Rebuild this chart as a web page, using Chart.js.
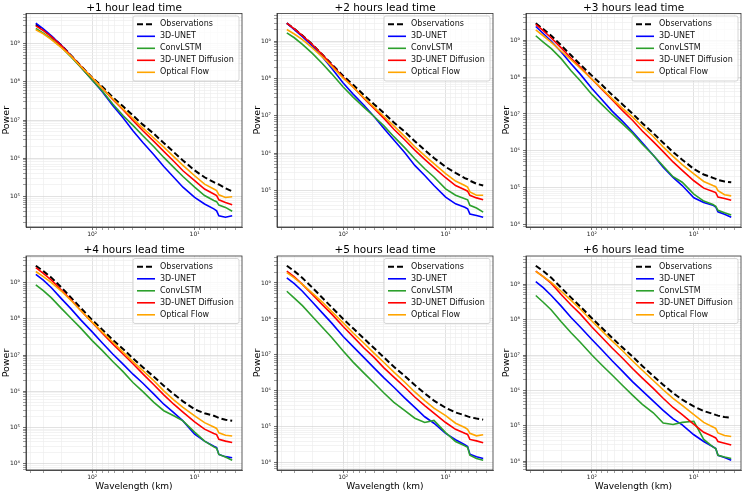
<!DOCTYPE html>
<html>
<head>
<meta charset="utf-8">
<script src="https://cdn.jsdelivr.net/npm/chart.js@4.4.1/dist/chart.umd.min.js"></script>
<style>
  html, body { margin: 0; padding: 0; background: #fff; }
  #fig { position: relative; width: 745px; height: 493px; overflow: hidden; }
  #fig canvas { position: absolute; }
</style>
</head>
<body>
<div id="fig"></div>
<script>
// Radially averaged power spectra, one panel per lead time.
// Power values as log10(power).

const wavelengths = [355, 300, 250, 200, 160, 130, 100, 80, 63, 50, 40, 32, 25, 20, 16, 13, 10, 8, 6.5, 6.1, 5.8, 5, 4.3];

const leadTitles = ['+1 hour lead time', '+2 hours lead time', '+3 hours lead time',
                    '+4 hours lead time', '+5 hours lead time', '+6 hours lead time'];

const seriesNames = ['Observations', '3D-UNET', 'ConvLSTM', '3D-UNET Diffusion', 'Optical Flow'];
const seriesColors = ['#000000', '#0000ff', '#2ca02c', '#ff0000', '#ffa500'];

// log10(power), rows = lead time +1h .. +6h
const observations = [
  [9.51, 9.37, 9.19, 8.96, 8.69, 8.43, 8.11, 7.88, 7.60, 7.36, 7.12, 6.88, 6.64, 6.40, 6.16, 5.94, 5.68, 5.50, 5.37, 5.33, 5.31, 5.21, 5.13],
  [9.48, 9.33, 9.15, 8.91, 8.64, 8.39, 8.07, 7.83, 7.56, 7.31, 7.07, 6.82, 6.57, 6.32, 6.08, 5.87, 5.63, 5.47, 5.33, 5.30, 5.26, 5.18, 5.13],
  [9.46, 9.30, 9.12, 8.86, 8.59, 8.34, 8.04, 7.79, 7.51, 7.26, 7.01, 6.75, 6.48, 6.22, 5.97, 5.76, 5.51, 5.36, 5.27, 5.24, 5.21, 5.17, 5.15],
  [9.47, 9.32, 9.14, 8.87, 8.58, 8.31, 7.97, 7.71, 7.42, 7.17, 6.91, 6.66, 6.40, 6.15, 5.92, 5.72, 5.50, 5.39, 5.32, 5.29, 5.26, 5.21, 5.18],
  [9.48, 9.33, 9.14, 8.87, 8.59, 8.33, 8.00, 7.74, 7.46, 7.19, 6.93, 6.67, 6.41, 6.16, 5.93, 5.73, 5.53, 5.40, 5.32, 5.29, 5.27, 5.23, 5.20],
  [9.52, 9.37, 9.18, 8.90, 8.62, 8.37, 8.04, 7.77, 7.48, 7.21, 6.96, 6.69, 6.41, 6.16, 5.93, 5.74, 5.55, 5.42, 5.34, 5.31, 5.29, 5.25, 5.23]
];
const unet = [
  [9.54, 9.39, 9.21, 8.96, 8.68, 8.40, 8.05, 7.75, 7.38, 7.06, 6.72, 6.41, 6.09, 5.78, 5.50, 5.24, 4.97, 4.80, 4.67, 4.62, 4.49, 4.45, 4.49],
  [9.48, 9.31, 9.12, 8.87, 8.58, 8.28, 7.88, 7.58, 7.29, 6.98, 6.66, 6.35, 6.01, 5.67, 5.40, 5.13, 4.82, 4.64, 4.55, 4.51, 4.37, 4.33, 4.28],
  [9.37, 9.18, 8.97, 8.68, 8.36, 8.08, 7.69, 7.39, 7.07, 6.80, 6.52, 6.22, 5.88, 5.56, 5.28, 5.06, 4.73, 4.60, 4.53, 4.48, 4.35, 4.28, 4.20],
  [9.23, 9.07, 8.86, 8.56, 8.27, 7.98, 7.64, 7.34, 7.03, 6.75, 6.47, 6.22, 5.92, 5.64, 5.41, 5.18, 4.81, 4.62, 4.48, 4.44, 4.25, 4.19, 4.16],
  [9.14, 8.98, 8.77, 8.47, 8.17, 7.89, 7.51, 7.23, 6.93, 6.64, 6.36, 6.10, 5.80, 5.54, 5.28, 5.10, 4.82, 4.64, 4.50, 4.45, 4.24, 4.17, 4.12],
  [9.07, 8.90, 8.68, 8.38, 8.06, 7.79, 7.44, 7.15, 6.83, 6.54, 6.25, 5.99, 5.70, 5.44, 5.20, 5.03, 4.75, 4.56, 4.41, 4.36, 4.17, 4.11, 4.03]
];
const convLstm = [
  [9.40, 9.28, 9.13, 8.91, 8.65, 8.39, 8.05, 7.77, 7.42, 7.12, 6.86, 6.59, 6.30, 6.02, 5.76, 5.52, 5.24, 5.02, 4.89, 4.86, 4.77, 4.71, 4.61],
  [9.22, 9.09, 8.91, 8.67, 8.40, 8.13, 7.77, 7.50, 7.23, 6.98, 6.73, 6.44, 6.14, 5.85, 5.58, 5.36, 5.04, 4.87, 4.78, 4.75, 4.60, 4.53, 4.42],
  [9.12, 8.95, 8.77, 8.50, 8.17, 7.90, 7.53, 7.26, 6.98, 6.73, 6.48, 6.18, 5.88, 5.59, 5.30, 5.15, 4.83, 4.64, 4.55, 4.50, 4.39, 4.32, 4.26],
  [8.94, 8.78, 8.58, 8.29, 8.01, 7.75, 7.40, 7.13, 6.82, 6.54, 6.24, 5.99, 5.69, 5.46, 5.32, 5.18, 4.87, 4.62, 4.46, 4.42, 4.25, 4.18, 4.09],
  [8.77, 8.58, 8.37, 8.07, 7.77, 7.49, 7.11, 6.80, 6.50, 6.22, 5.94, 5.68, 5.45, 5.24, 5.12, 5.18, 4.84, 4.59, 4.47, 4.43, 4.21, 4.12, 4.07],
  [8.68, 8.49, 8.27, 7.94, 7.63, 7.36, 7.00, 6.72, 6.43, 6.14, 5.87, 5.61, 5.37, 5.08, 5.04, 5.10, 5.13, 4.62, 4.41, 4.36, 4.17, 4.12, 4.08]
];
const unetDiffusion = [
  [9.47, 9.35, 9.18, 8.95, 8.68, 8.42, 8.11, 7.84, 7.54, 7.27, 6.99, 6.72, 6.44, 6.18, 5.92, 5.67, 5.41, 5.19, 5.06, 5.02, 4.91, 4.84, 4.78],
  [9.48, 9.33, 9.15, 8.91, 8.64, 8.37, 8.03, 7.77, 7.47, 7.20, 6.93, 6.64, 6.35, 6.08, 5.83, 5.61, 5.34, 5.13, 5.02, 4.98, 4.87, 4.80, 4.75],
  [9.43, 9.26, 9.06, 8.79, 8.51, 8.27, 7.94, 7.67, 7.38, 7.09, 6.83, 6.54, 6.25, 5.98, 5.70, 5.47, 5.19, 4.99, 4.90, 4.87, 4.75, 4.71, 4.66],
  [9.42, 9.26, 9.07, 8.80, 8.52, 8.24, 7.90, 7.61, 7.31, 7.03, 6.76, 6.48, 6.18, 5.90, 5.64, 5.42, 5.15, 4.95, 4.83, 4.80, 4.67, 4.62, 4.58],
  [9.33, 9.17, 8.96, 8.68, 8.40, 8.14, 7.79, 7.51, 7.20, 6.93, 6.64, 6.38, 6.10, 5.83, 5.59, 5.38, 5.12, 4.93, 4.82, 4.79, 4.65, 4.61, 4.56],
  [9.37, 9.21, 9.02, 8.71, 8.41, 8.16, 7.79, 7.50, 7.19, 6.91, 6.62, 6.35, 6.06, 5.78, 5.52, 5.32, 5.04, 4.82, 4.70, 4.66, 4.56, 4.51, 4.46]
];
const opticalFlow = [
  [9.37, 9.26, 9.11, 8.90, 8.67, 8.41, 8.11, 7.84, 7.56, 7.29, 7.04, 6.79, 6.53, 6.29, 6.04, 5.81, 5.54, 5.32, 5.19, 5.15, 5.04, 4.97, 4.99],
  [9.31, 9.19, 9.04, 8.82, 8.58, 8.33, 8.01, 7.77, 7.49, 7.23, 6.98, 6.73, 6.44, 6.17, 5.93, 5.72, 5.45, 5.25, 5.13, 5.09, 4.96, 4.87, 4.87],
  [9.28, 9.12, 8.94, 8.70, 8.47, 8.24, 7.94, 7.69, 7.41, 7.15, 6.92, 6.66, 6.39, 6.11, 5.85, 5.63, 5.38, 5.17, 5.06, 5.03, 4.92, 4.81, 4.78],
  [9.31, 9.17, 9.00, 8.77, 8.50, 8.24, 7.91, 7.64, 7.36, 7.08, 6.82, 6.57, 6.29, 6.01, 5.76, 5.55, 5.32, 5.13, 5.01, 4.97, 4.85, 4.78, 4.76],
  [9.29, 9.14, 8.96, 8.72, 8.47, 8.21, 7.89, 7.61, 7.33, 7.05, 6.79, 6.52, 6.24, 5.97, 5.73, 5.52, 5.31, 5.10, 4.98, 4.93, 4.82, 4.75, 4.78],
  [9.36, 9.21, 9.05, 8.80, 8.54, 8.30, 7.96, 7.69, 7.39, 7.12, 6.84, 6.57, 6.28, 6.02, 5.78, 5.58, 5.32, 5.10, 4.97, 4.93, 4.80, 4.73, 4.70]
];

const allSeries = [observations, unet, convLstm, unetDiffusion, opticalFlow];

// --- layout of the 2x3 grid (canvas cells and plot rectangles, px) ---
const colLeft = [0, 250, 500], colWidth = [250, 250, 245];
const plotLeft = [26, 277, 526], plotRight = [242, 493, 741];
const rowTop = [0, 242], rowHeight = [242, 251];
const plotTop = [13.5, 256], plotBottom = [227, 470];

const FONT = '"DejaVu Sans", "Liberation Sans", sans-serif';
const SUP = '⁰¹²³⁴⁵⁶⁷⁸⁹';

function isDecade(v) {
  const e = Math.log10(v);
  return Math.abs(e - Math.round(e)) < 1e-9;
}

function decadeLabel(v) {
  if (!isDecade(v)) return '';
  const n = Math.round(Math.log10(v));
  return '10' + String(n).split('').map(d => d === '-' ? '⁻' : SUP[+d]).join('');
}

// 1..9 x 10^n ticks like matplotlib's major + minor log locators
function logTicks(scale) {
  const out = [];
  const lo = Math.floor(Math.log10(scale.min));
  const hi = Math.ceil(Math.log10(scale.max));
  for (let e = lo; e <= hi; e++) {
    for (let m = 1; m < 10; m++) {
      const v = m * Math.pow(10, e);
      if (v >= scale.min && v <= scale.max) out.push({ value: v, major: m === 1 });
    }
  }
  scale.ticks = out;
}

function paddedRange(logs) {
  const lo = Math.min(...logs), hi = Math.max(...logs);
  const m = (hi - lo) * 0.05;
  return [Math.pow(10, lo - m), Math.pow(10, hi + m)];
}

const xRange = paddedRange(wavelengths.map(w => Math.log10(w)));

function axisStyle() {
  return {
    type: 'logarithmic',
    afterBuildTicks: logTicks,
    ticks: {
      autoSkip: false, maxRotation: 0, minRotation: 0,
      font: { size: 6, family: FONT }, color: '#222',
      callback: v => decadeLabel(v)
    },
    grid: {
      color: ctx => (ctx.tick && isDecade(ctx.tick.value)) ? '#d6d6d6' : '#eeeeee',
      lineWidth: 0.7,
      tickLength: 3,
      tickColor: ctx => (ctx.tick && isDecade(ctx.tick.value)) ? '#333' : '#777'
    },
    border: { display: true, color: '#333', width: 0.8 }
  };
}

// frame, title, axis labels and legend drawn inside the plot
const decor = {
  id: 'decor',
  afterDatasetsDraw(chart, args, opts) {
    const { ctx, chartArea: a } = chart;
    ctx.save();
    ctx.strokeStyle = '#333';
    ctx.lineWidth = 0.8;
    ctx.strokeRect(a.left, a.top, a.right - a.left, a.bottom - a.top);

    // legend
    const bw = 106, bh = 65;
    const bx = a.right - 3 - bw, by = a.top + 2.5;
    ctx.beginPath();
    if (ctx.roundRect) ctx.roundRect(bx, by, bw, bh, 2); else ctx.rect(bx, by, bw, bh);
    ctx.fillStyle = 'rgba(255,255,255,0.8)';
    ctx.fill();
    ctx.strokeStyle = '#cccccc';
    ctx.lineWidth = 0.8;
    ctx.stroke();
    ctx.font = '8px ' + FONT;
    ctx.textBaseline = 'middle';
    ctx.textAlign = 'left';
    seriesNames.forEach((name, i) => {
      const y = by + 8.3 + 12 * i;
      ctx.beginPath();
      ctx.setLineDash(i === 0 ? [6, 3] : []);
      ctx.lineWidth = i === 0 ? 2 : 1.6;
      ctx.strokeStyle = seriesColors[i];
      ctx.moveTo(bx + 4, y);
      ctx.lineTo(bx + 22, y);
      ctx.stroke();
      ctx.setLineDash([]);
      ctx.fillStyle = '#111';
      ctx.fillText(name, bx + 27, y);
    });

    // title
    ctx.fillStyle = '#000';
    ctx.textAlign = 'center';
    ctx.textBaseline = 'alphabetic';
    ctx.font = '10.5px ' + FONT;
    ctx.fillText(opts.title, (a.left + a.right) / 2, a.top - 3);

    // y label
    ctx.font = '9.5px ' + FONT;
    ctx.save();
    ctx.translate(a.left - 19, (a.top + a.bottom) / 2);
    ctx.rotate(-Math.PI / 2);
    ctx.textBaseline = 'middle';
    ctx.fillText('Power', 0, 0);
    ctx.restore();

    // x label on the bottom row only
    if (opts.xlabel) {
      ctx.font = '9px ' + FONT;
      ctx.textBaseline = 'middle';
      ctx.fillText('Wavelength (km)', (a.left + a.right) / 2, a.bottom + 16.7);
    }
    ctx.restore();
  }
};

const fig = document.getElementById('fig');

for (let p = 0; p < 6; p++) {
  const row = Math.floor(p / 3), col = p % 3;
  const canvas = document.createElement('canvas');
  canvas.width = colWidth[col];
  canvas.height = rowHeight[row];
  canvas.style.left = colLeft[col] + 'px';
  canvas.style.top = rowTop[row] + 'px';
  fig.appendChild(canvas);

  const logs = [];
  allSeries.forEach(s => logs.push(...s[p]));
  const yRange = paddedRange(logs);

  const datasets = allSeries.map((s, i) => ({
    label: seriesNames[i],
    data: wavelengths.map((w, k) => ({ x: w, y: Math.pow(10, s[p][k]) })),
    borderColor: seriesColors[i],
    borderWidth: i === 0 ? 2 : 1.6,
    borderDash: i === 0 ? [6, 3] : [],
    pointRadius: 0,
    tension: 0,
    fill: false,
    order: 4 - i
  }));

  const xAxis = axisStyle();
  Object.assign(xAxis, {
    reverse: true,
    min: xRange[0], max: xRange[1],
    afterFit: s => {
      s.height = rowTop[row] + rowHeight[row] - plotBottom[row];
      s.paddingLeft = 0; s.paddingRight = 0;
    }
  });
  xAxis.ticks.padding = 1;

  const yAxis = axisStyle();
  Object.assign(yAxis, {
    min: yRange[0], max: yRange[1],
    afterFit: s => {
      s.width = plotLeft[col] - colLeft[col];
      s.paddingTop = 0; s.paddingBottom = 0;
    }
  });
  yAxis.ticks.padding = 3;

  new Chart(canvas, {
    type: 'line',
    data: { datasets },
    options: {
      responsive: false,
      animation: false,
      devicePixelRatio: 1,
      layout: {
        autoPadding: false,
        padding: {
          top: plotTop[row] - rowTop[row],
          right: colLeft[col] + colWidth[col] - plotRight[col],
          left: 0, bottom: 0
        }
      },
      plugins: {
        legend: { display: false },
        tooltip: { enabled: false },
        decor: { title: leadTitles[p], xlabel: row === 1 }
      },
      scales: { x: xAxis, y: yAxis }
    },
    plugins: [decor]
  });
}
</script>
</body>
</html>
